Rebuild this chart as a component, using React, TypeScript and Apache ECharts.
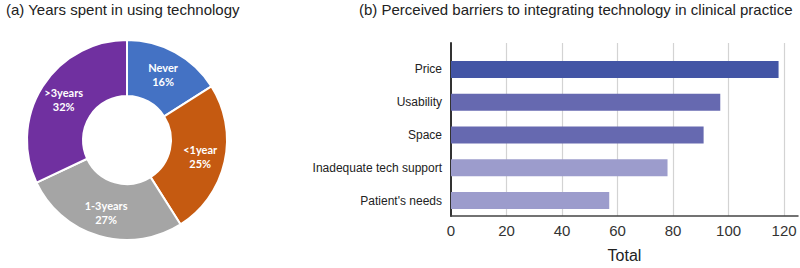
import React, { useEffect, useRef } from "react";
import * as echarts from "echarts";

const pieNames = ["Never", "<1year", "1-3years", ">3years"];
const pieValues = [16, 25, 27, 32];
const pieColors = ["#4472C4", "#C55A11", "#A5A5A5", "#7030A0"];

const barCategories = ["Price", "Usability", "Space", "Inadequate tech support", "Patient's needs"];
const barValues = [118, 97, 91, 78, 57];
const barColors = ["#4355A5", "#6669B0", "#6669B0", "#9C9CCC", "#9C9CCC"];

const xTicks = [0, 20, 40, 60, 80, 100, 120];

export default function App() {
  const ref = useRef<HTMLDivElement>(null);
  useEffect(() => {
    if (!ref.current) return;
    const chart = echarts.init(ref.current, null, { renderer: "svg" });
    const font = "Liberation Sans, Arial, sans-serif";
    chart.setOption({
      animation: false,
      title: [
        {
          text: "(a) Years spent in using technology",
          left: 1,
          top: -3,
          textStyle: { fontFamily: font, fontSize: 15, fontWeight: "normal", color: "#222" },
        },
        {
          text: "(b) Perceived barriers to integrating technology in clinical practice",
          left: 354,
          top: -3,
          textStyle: { fontFamily: font, fontSize: 15, fontWeight: "normal", color: "#222" },
        },
      ],
      grid: [
        { left: 451, top: 43, width: 347, height: 180 },
        { left: 451, top: 53, width: 347, height: 164 },
      ],
      xAxis: [
        {
          type: "value",
          gridIndex: 0,
          min: 0,
          max: 125,
          interval: 20,
          axisLine: { show: true, lineStyle: { color: "#444", width: 1.5 } },
          axisTick: { show: false },
          axisLabel: {
            showMaxLabel: false,
            fontFamily: font,
            fontSize: 15,
            color: "#333",
            margin: 7,
            formatter: (v: number) => (xTicks.includes(v) ? String(v) : ""),
          },
          splitLine: { show: true, showMinLine: false, showMaxLine: false, lineStyle: { color: "#d3d3d3", width: 1.2 } },
          name: "Total",
          nameLocation: "middle",
          nameGap: 31,
          nameTextStyle: { fontFamily: font, fontSize: 16, color: "#222" },
        },
        {
          type: "value",
          gridIndex: 1,
          min: 0,
          max: 125,
          show: false,
        },
      ],
      yAxis: [
        {
          type: "category",
          gridIndex: 0,
          data: [""],
          axisLine: { show: true, lineStyle: { color: "#333", width: 2 } },
          axisTick: { show: false },
          axisLabel: { show: false },
        },
        {
          type: "category",
          gridIndex: 1,
          data: barCategories,
          inverse: true,
          axisLine: { show: false },
          axisTick: { show: false },
          axisLabel: { fontFamily: font, fontSize: 12, color: "#222", margin: 9 },
        },
      ],
      series: [
        {
          type: "pie",
          center: [127, 140],
          radius: [44, 100],
          startAngle: 90,
          clockwise: true,
          data: pieNames.map((n, i) => ({ name: n, value: pieValues[i], itemStyle: { color: pieColors[i] } })),
          itemStyle: { borderColor: "#fff", borderWidth: 2 },
          label: {
            show: true,
            position: "inside",
            formatter: "{b}\n{c}%",
            color: "#fff",
            fontFamily: "Lato, sans-serif",
            fontWeight: "bold",
            fontSize: 11,
            lineHeight: 14,
          },
          labelLine: { show: false },
        },
        {
          type: "bar",
          xAxisIndex: 1,
          yAxisIndex: 1,
          barWidth: 17,
          data: barValues.map((v, i) => ({ value: v, itemStyle: { color: barColors[i] } })),
        },
      ],
    });
    return () => chart.dispose();
  }, []);
  return <div ref={ref} style={{ width: 800, height: 268, position: "absolute", left: 0, top: 0, background: "#fff" }} />;
}
